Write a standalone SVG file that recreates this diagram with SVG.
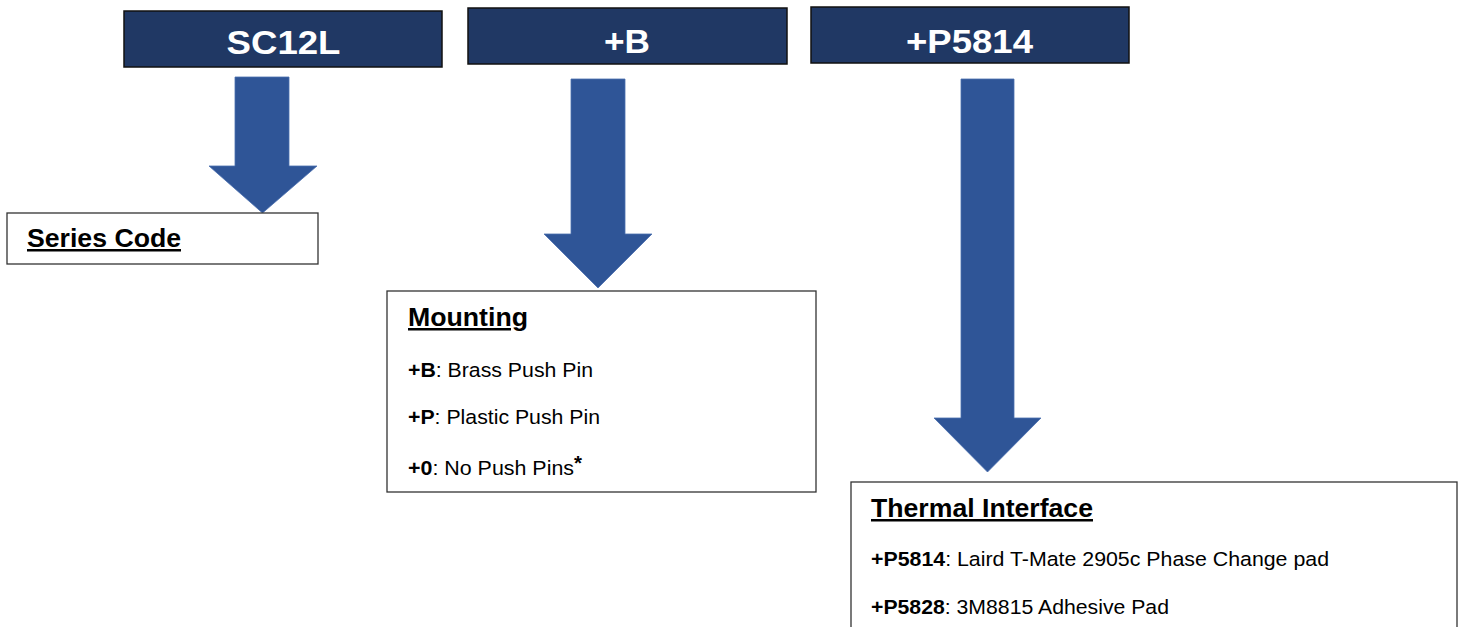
<svg xmlns="http://www.w3.org/2000/svg" width="1463" height="627" viewBox="0 0 1463 627">
<style>
.hdr{fill:#203864;stroke:#111;stroke-width:1.5}
.hdrt{font-family:"Liberation Sans",Arial,sans-serif;font-weight:bold;font-size:33px;fill:#fff;text-anchor:middle}
.box{fill:#fff;stroke:#333;stroke-width:1.3}
.head{font-family:"Liberation Sans",Arial,sans-serif;font-weight:bold;font-size:25px;fill:#000;text-decoration:underline}
.body{font-family:"Liberation Sans",Arial,sans-serif;font-size:20.5px;fill:#000}
.b{font-weight:bold}
.arrow{fill:#2f5597;stroke:#4a6fae;stroke-width:0.8}
</style>
<rect width="1463" height="627" fill="#fff"/>
<g id="connectors">
<path class="arrow" d="M235,77 H289 V166 H317 L262.5,213 L209,166 H235 Z"/>
<path class="arrow" d="M571,79 H625 V234 H652 L598,288 L544,234 H571 Z"/>
<path class="arrow" d="M961,79 H1014 V418 H1041 L987.5,472 L934,418 H961 Z"/>
</g>
<g id="node-sc12l">
<rect class="hdr" x="124" y="11" width="318" height="56"/>
<text class="hdrt" x="283.5" y="54" textLength="114" lengthAdjust="spacingAndGlyphs">SC12L</text>
</g>
<g id="node-b">
<rect class="hdr" x="468" y="8" width="319" height="56"/>
<text class="hdrt" x="627" y="53" textLength="46" lengthAdjust="spacingAndGlyphs">+B</text>
</g>
<g id="node-p5814">
<rect class="hdr" x="811" y="7" width="318" height="56"/>
<text class="hdrt" x="969.5" y="53" textLength="127" lengthAdjust="spacingAndGlyphs">+P5814</text>
</g>
<g id="node-series">
<rect class="box" x="7" y="213" width="311" height="51"/>
<text class="head" x="27" y="247" textLength="154" lengthAdjust="spacingAndGlyphs">Series Code</text>
</g>
<g id="node-mounting">
<rect class="box" x="387" y="291" width="429" height="201"/>
<text class="head" x="408" y="326" textLength="120" lengthAdjust="spacingAndGlyphs">Mounting</text>
<text class="body" x="408" y="377" textLength="185" lengthAdjust="spacingAndGlyphs"><tspan class="b">+B</tspan>: Brass Push Pin</text>
<text class="body" x="408" y="424" textLength="192" lengthAdjust="spacingAndGlyphs"><tspan class="b">+P</tspan>: Plastic Push Pin</text>
<text class="body" x="408" y="475" textLength="166" lengthAdjust="spacingAndGlyphs"><tspan class="b">+0</tspan>: No Push Pins</text>
<text class="body b" x="574" y="470" font-size="20">*</text>
</g>
<g id="node-thermal">
<rect class="box" x="851" y="482" width="606" height="160"/>
<text class="head" x="871" y="517" textLength="222" lengthAdjust="spacingAndGlyphs">Thermal Interface</text>
<text class="body" x="871" y="566" textLength="458" lengthAdjust="spacingAndGlyphs"><tspan class="b">+P5814</tspan>: Laird T-Mate 2905c Phase Change pad</text>
<text class="body" x="871" y="614" textLength="298" lengthAdjust="spacingAndGlyphs"><tspan class="b">+P5828</tspan>: 3M8815 Adhesive Pad</text>
</g>
</svg>
